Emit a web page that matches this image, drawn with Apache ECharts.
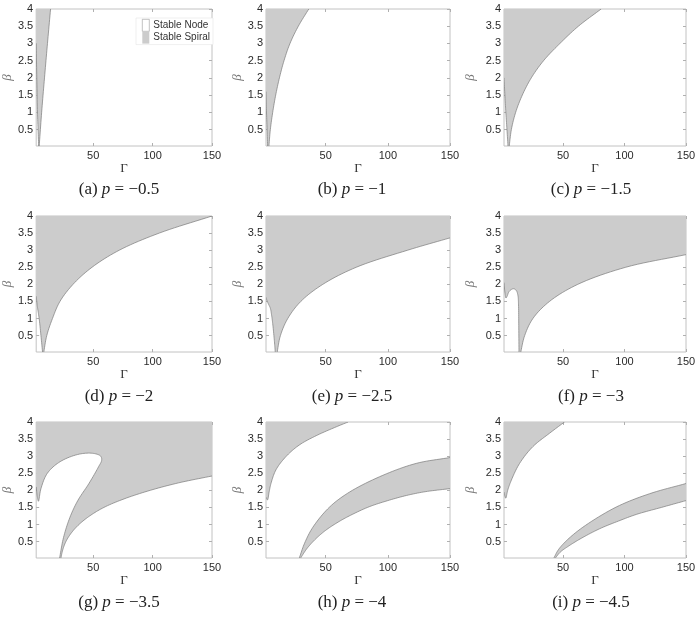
<!DOCTYPE html>
<html><head><meta charset="utf-8">
<script src="https://cdn.jsdelivr.net/npm/echarts@6/dist/echarts.min.js"></script>
<style>html,body{margin:0;padding:0;background:#fff}#c{width:699px;height:617px}</style>
</head><body><div id="c"></div>
<script>
// ---------------- data ----------------
const gammaRange = [2, 150];
const betaRange = [0.02, 4];
const gammaTicks = [50, 100, 150];
const betaTicks = [0.5, 1, 1.5, 2, 2.5, 3, 3.5, 4];
const panelTags = ['(a)', '(b)', '(c)', '(d)', '(e)', '(f)', '(g)', '(h)', '(i)'];
const pValues = ['−0.5', '−1', '−1.5', '−2', '−2.5', '−3', '−3.5', '−4', '−4.5'];
const legendNames = ['Stable Node', 'Stable Spiral'];

// Stable-spiral (gray) regions, polygons in (Γ, β)
const spiralA = [[2, 4], [2, 3.0], [2.5, 2.0], [3.1, 1.0], [3.6, 0.5], [4.1, 0], [4.5, 0], [6.6, 1.0], [9.0, 2.0], [11.5, 3.0], [14.1, 4]];
const spiralB = [[2, 4], [2, 1.6], [2.4, 1.0], [2.9, 0.5], [3.3, 0], [4.3, 0], [5.5, 0.5], [7.4, 1.0], [9.8, 1.5], [12.8, 2.0], [16.5, 2.5], [21.3, 3.0], [28, 3.5], [36.4, 4]];
const spiralC = [[2, 4], [2, 2.0], [2.7, 1.5], [3.5, 1.0], [4.4, 0.5], [5.3, 0], [6.2, 0], [8, 0.5], [11.5, 1.0], [16.9, 1.5], [24.2, 2.0], [34.2, 2.5], [47.5, 3.0], [62.5, 3.5], [81, 4]];
const spiralD = [[2, 4], [2, 1.65], [3, 1.35], [4.5, 1.0], [6, 0.5], [7.4, 0], [8.3, 0], [10.9, 0.5], [15.7, 1.0], [22, 1.5], [33, 2.0], [49, 2.5], [72, 3.0], [105.6, 3.5], [150, 4]];
const spiralE = [[2, 4], [2, 1.62], [2.8, 1.52], [4, 1.42], [5.5, 1.3], [6.5, 1.1], [7.4, 0.85], [8.7, 0.36], [9.5, 0], [10.9, 0], [13.6, 0.5], [19.5, 1.0], [30, 1.5], [47.7, 2.0], [74.6, 2.5], [116, 3.0], [150, 3.36], [150, 4]];
const spiralF = [[2, 4], [2, 2.05], [2.8, 1.75], [3.6, 1.6], [4.5, 1.65], [6, 1.78], [8, 1.85], [10, 1.87], [12, 1.82], [13.3, 1.68], [13.8, 1.4], [14.0, 0.8], [14.2, 0], [15.5, 0], [18.8, 0.5], [25.5, 1.0], [39, 1.5], [62, 2.0], [101, 2.5], [150, 2.87], [150, 4]];
const spiralG = [[2, 4], [2, 2.1], [3, 1.8], [3.9, 1.68], [6, 2.05], [11.4, 2.5], [22.2, 2.84], [38.3, 3.06], [50.4, 3.08], [56.3, 3.0], [57.1, 2.88], [54.5, 2.69], [46.4, 2.2], [37, 1.7], [30.4, 1.21], [25, 0.62], [21.6, 0], [22.7, 0], [24.3, 0.25], [27, 0.5], [31.5, 0.75], [38, 1.0], [47, 1.25], [59, 1.5], [76, 1.75], [98, 2.0], [122, 2.22], [150, 2.42], [150, 4]];
const spiralH1 = [[2, 4], [2, 1.8], [3.2, 1.72], [4.5, 1.95], [6, 2.2], [10, 2.6], [18.1, 2.99], [28.9, 3.33], [42.4, 3.6], [56, 3.82], [68, 4]];
const spiralH2 = [[28.6, 0], [29.5, 0], [35, 0.3], [42, 0.58], [50, 0.83], [60, 1.07], [70, 1.27], [85, 1.52], [100, 1.7], [115, 1.85], [130, 1.96], [150, 2.05], [150, 2.96], [123, 2.79], [96, 2.44], [69.2, 1.95], [53.1, 1.51], [39.7, 0.92], [33, 0.45]];
const spiralI1 = [[2, 4], [2, 1.95], [3.4, 1.77], [5, 2.0], [8, 2.3], [14.7, 2.79], [25.5, 3.28], [39, 3.67], [51.2, 4]];
const spiralI2 = [[42.3, 0], [43.3, 0], [48, 0.2], [55, 0.38], [65, 0.6], [80, 0.88], [95, 1.1], [110, 1.3], [130, 1.5], [150, 1.7], [150, 2.2], [120.3, 1.9], [93.2, 1.51], [66.1, 0.92], [52.6, 0.52], [46, 0.25]];

const panelRegions = [[spiralA], [spiralB], [spiralC], [spiralD], [spiralE], [spiralF], [spiralG], [spiralH1, spiralH2], [spiralI1, spiralI2]];

// ---------------- layout ----------------
const colLeft = [28, 266, 504];
const colWidth = [184, 184, 182];
const rowTop = [9, 216, 422];
const rowHeight = [137, 136, 136];
const captionX = [119, 352, 591];
const captionY = [190, 397, 603];
const betaNameGap = [21, 21, 27];

const FILL = '#cccccc', EDGE = '#7a7a7a', BOX = '#c2c2c2', TICK = '#b0b0b0';

function onBoundary(p, q) {
  return (p[0] <= gammaRange[0] && q[0] <= gammaRange[0]) ||
         (p[0] >= gammaRange[1] && q[0] >= gammaRange[1]) ||
         (p[1] <= betaRange[0] && q[1] <= betaRange[0]) ||
         (p[1] >= betaRange[1] && q[1] >= betaRange[1]);
}

// centripetal Catmull-Rom smoothing of a pixel-space run (render-time smoothing, like a smooth line)
function smoothRun(P) {
  if (P.length < 3) return P.slice();
  const ext = [[2 * P[0][0] - P[1][0], 2 * P[0][1] - P[1][1]]].concat(P,
    [[2 * P[P.length - 1][0] - P[P.length - 2][0], 2 * P[P.length - 1][1] - P[P.length - 2][1]]]);
  const d = (a, b) => Math.max(1e-4, Math.pow(Math.hypot(a[0] - b[0], a[1] - b[1]), 0.5));
  const lerp = (a, b, ta, tb, t) => [((tb - t) * a[0] + (t - ta) * b[0]) / (tb - ta), ((tb - t) * a[1] + (t - ta) * b[1]) / (tb - ta)];
  const out = [P[0]];
  for (let i = 1; i < ext.length - 2; i++) {
    const p0 = ext[i - 1], p1 = ext[i], p2 = ext[i + 1], p3 = ext[i + 2];
    const t0 = 0, t1 = t0 + d(p0, p1), t2 = t1 + d(p1, p2), t3 = t2 + d(p2, p3);
    const steps = 10;
    for (let s = 1; s <= steps; s++) {
      const t = t1 + (t2 - t1) * s / steps;
      const A1 = lerp(p0, p1, t0, t1, t), A2 = lerp(p1, p2, t1, t2, t), A3 = lerp(p2, p3, t2, t3, t);
      const B1 = lerp(A1, A2, t0, t2, t), B2 = lerp(A2, A3, t1, t3, t);
      out.push(lerp(B1, B2, t1, t2, t));
    }
  }
  return out;
}

function makeRender(regions) {
  return function (params, api) {
    let poly = regions[params.dataIndex];
    const n = poly.length;
    let s0 = 0;
    for (let k = 0; k < n; k++) { if (onBoundary(poly[k], poly[(k + 1) % n])) { s0 = k; break; } }
    poly = poly.slice(s0).concat(poly.slice(0, s0));
    const pts = poly.map(p => api.coord(p));
    const outline = [];
    const strokes = [];
    let run = [];
    const flush = () => {
      if (run.length > 1) {
        const sm = smoothRun(run);
        strokes.push(sm);
        for (let j = 1; j < sm.length; j++) outline.push(sm[j]);
      }
      run = [];
    };
    outline.push(pts[0]);
    for (let k = 0; k < n; k++) {
      const p = poly[k], q = poly[(k + 1) % n];
      if (onBoundary(p, q)) {
        flush();
        outline.push(pts[(k + 1) % n]);
      } else {
        if (!run.length) run.push(pts[k]);
        run.push(pts[(k + 1) % n]);
      }
    }
    flush();
    const children = [{ type: 'polygon', shape: { points: outline }, style: { fill: FILL, stroke: null }, silent: true }];
    strokes.forEach(sm => children.push({ type: 'polyline', shape: { points: sm }, style: { stroke: EDGE, lineWidth: 0.7, fill: null }, silent: true }));
    return { type: 'group', children };
  };
}

const grids = [], xAxes = [], yAxes = [], series = [], graphics = [];
for (let i = 0; i < 9; i++) {
  const r = Math.floor(i / 3), c = i % 3;
  grids.push({ left: colLeft[c], top: rowTop[r], width: colWidth[c], height: rowHeight[r], show: true, borderColor: BOX, borderWidth: 1, backgroundColor: '#fff' });
  const baseX = {
    gridIndex: i, type: 'value', min: gammaRange[0], max: gammaRange[1],
    axisLine: { show: false }, splitLine: { show: false },
    axisTick: { show: true, inside: true, length: 3, lineStyle: { color: TICK }, customValues: gammaTicks }
  };
  xAxes.push(Object.assign({}, baseX, {
    position: 'bottom',
    name: 'Γ', nameLocation: 'middle', nameGap: 15,
    nameTextStyle: { fontFamily: 'Liberation Serif', fontSize: 13, color: '#333' },
    axisLabel: { show: true, customValues: gammaTicks, margin: 4, fontFamily: 'Liberation Sans', fontSize: 11, color: '#2a2a2a' }
  }));
  xAxes.push(Object.assign({}, baseX, { position: 'top', axisLabel: { show: false } }));
  const baseY = {
    gridIndex: i, type: 'value', min: betaRange[0], max: betaRange[1],
    axisLine: { show: false }, splitLine: { show: false },
    axisTick: { show: true, inside: true, length: 3, lineStyle: { color: TICK }, customValues: betaTicks }
  };
  yAxes.push(Object.assign({}, baseY, {
    position: 'left',
    name: 'β', nameLocation: 'middle', nameGap: betaNameGap[c], nameRotate: 90,
    nameTextStyle: { fontFamily: 'Liberation Serif', fontStyle: 'italic', fontSize: 13, color: '#777' },
    axisLabel: { show: true, customValues: betaTicks, margin: 3, fontFamily: 'Liberation Sans', fontSize: 11, color: '#2a2a2a' }
  }));
  yAxes.push(Object.assign({}, baseY, { position: 'right', axisLabel: { show: false } }));
  series.push({
    type: 'custom', name: legendNames[1], xAxisIndex: 2 * i, yAxisIndex: 2 * i, clip: true,
    itemStyle: { color: FILL },
    renderItem: makeRender(panelRegions[i]),
    data: panelRegions[i].map((_, k) => k)
  });
  graphics.push({
    type: 'text', x: captionX[c], y: captionY[r], silent: true,
    style: {
      text: panelTags[i] + ' {p|p} = ' + pValues[i],
      align: 'center', verticalAlign: 'middle',
      font: '17px "Liberation Serif"', fill: '#222',
      rich: { p: { font: 'italic 17px "Liberation Serif"', fill: '#222' } }
    }
  });
}
series.push({ type: 'custom', name: legendNames[0], xAxisIndex: 0, yAxisIndex: 0, itemStyle: { color: '#fff' }, renderItem: () => null, data: [] });

const option = {
  animation: false,
  backgroundColor: '#fff',
  grid: grids, xAxis: xAxes, yAxis: yAxes, series: series,
  legend: {
    left: 136, top: 18, orient: 'vertical', selectedMode: false,
    itemWidth: 7, itemHeight: 12, itemGap: 0, padding: [1, 3, 1, 6],
    borderColor: '#e4e4e4', borderWidth: 0.6, backgroundColor: '#fff',
    textStyle: { fontFamily: 'Liberation Sans', fontSize: 10, color: '#333', padding: [0, 0, 0, -1] },
    data: [
      { name: legendNames[0], icon: 'rect', itemStyle: { color: '#fff', borderColor: '#999', borderWidth: 0.6 } },
      { name: legendNames[1], icon: 'rect', itemStyle: { color: FILL, borderColor: FILL } }
    ]
  },
  graphic: graphics
};
const chart = echarts.init(document.getElementById('c'), null, { renderer: 'canvas' });
chart.setOption(option);
</script></body></html>
